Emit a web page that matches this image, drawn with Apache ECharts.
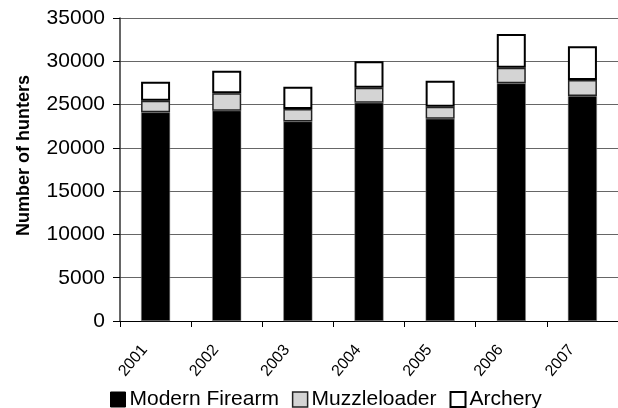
<!DOCTYPE html>
<html>
<head>
<meta charset="utf-8">
<script src="https://cdn.jsdelivr.net/npm/echarts@6/dist/echarts.min.js"></script>
<style>html,body{margin:0;padding:0;background:#fff;}#c{width:618px;height:408px;}</style>
</head>
<body>
<div id="c"></div>
<script>
const years = ['2001','2002','2003','2004','2005','2006','2007'];
const modernFirearm = [24100, 24300, 23050, 25200, 23350, 27450, 26000];
const muzzleloader = [1350, 2000, 1450, 1750, 1400, 1800, 1850];
const archery = [2200, 2600, 2550, 3050, 3000, 3900, 3900];
const yTicks = [0, 5000, 10000, 15000, 20000, 25000, 30000, 35000];

const chart = echarts.init(document.getElementById('c'));
const FONT = 'Liberation Sans, Arial, sans-serif';
chart.setOption({
  animation: false,
  backgroundColor: '#fff',
  grid: { left: 120, top: 18, width: 498, height: 303, containLabel: false },
  legend: {
    left: 110, top: 389, padding: 0, itemGap: 13, itemWidth: 15, itemHeight: 15,
    icon: 'rect',
    textStyle: { fontFamily: FONT, fontSize: 21, color: '#000', padding: [0, 0, 0, -1] },
    data: [
      { name: 'Modern Firearm', itemStyle: { color: '#000', borderColor: '#000', borderWidth: 1 } },
      { name: 'Muzzleloader', itemStyle: { color: '#d4d4d4', borderColor: '#222', borderWidth: 1.5 } },
      { name: 'Archery', itemStyle: { color: '#fff', borderColor: '#000', borderWidth: 2 } }
    ]
  },
  xAxis: {
    type: 'category', data: years,
    axisLine: { lineStyle: { color: '#000', width: 1 } },
    axisTick: { show: true, length: 6, lineStyle: { color: '#000' } },
    axisLabel: { rotate: 50, margin: 13, padding: [0, 17, 0, 0], fontFamily: FONT, fontSize: 16, color: '#000' }
  },
  yAxis: {
    type: 'value', min: yTicks[0], max: yTicks[yTicks.length - 1], interval: 5000,
    name: 'Number of hunters', nameLocation: 'middle', nameGap: 87, nameRotate: 90,
    nameTextStyle: { fontFamily: FONT, fontSize: 18, fontWeight: 'bold', color: '#000', padding: [0, 0, 0, 28] },
    axisLine: { show: true, lineStyle: { color: '#333', width: 1.5 } },
    axisTick: { show: true, length: 7, inside: false, lineStyle: { color: '#000' } },
    axisLabel: { margin: 15, fontFamily: FONT, fontSize: 21, color: '#000', formatter: v => String(v) },
    splitLine: { show: true, lineStyle: { color: '#666', width: 1 } }
  },
  series: [
    { name: 'Modern Firearm', type: 'bar', stack: 'a', data: modernFirearm, barWidth: 29,
      itemStyle: { color: '#000', borderColor: '#888', borderWidth: 0.5 } },
    { name: 'Muzzleloader', type: 'bar', stack: 'a', data: muzzleloader, barWidth: 29,
      itemStyle: { color: '#d4d4d4', borderColor: '#222', borderWidth: 1.5 } },
    { name: 'Archery', type: 'bar', stack: 'a', data: archery, barWidth: 29,
      itemStyle: { color: '#fff', borderColor: '#000', borderWidth: 2 } }
  ]
});
</script>
</body>
</html>
